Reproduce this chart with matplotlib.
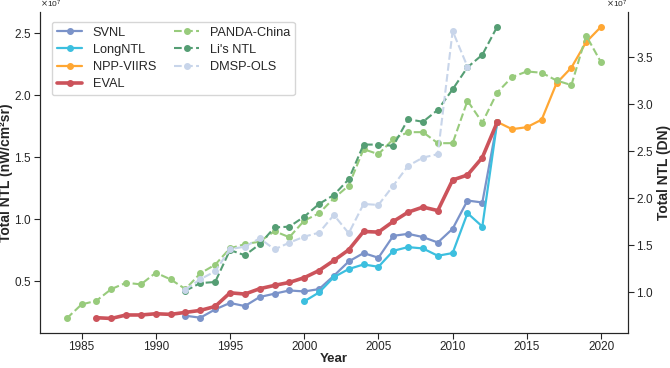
import numpy as np
import matplotlib
matplotlib.use("Agg")
import matplotlib.pyplot as plt
from matplotlib.ticker import ScalarFormatter
import seaborn as sns

sns.set_style("ticks")
plt.rcParams['font.family'] = ['Liberation Sans', 'DejaVu Sans']

# left axis (nW/cm2sr), units of 1e7
svnl_years = list(range(1992, 2014))
svnl = [0.220, 0.204, 0.271, 0.323, 0.298, 0.371, 0.398, 0.424, 0.416, 0.435, 0.543,
        0.658, 0.726, 0.688, 0.865, 0.881, 0.855, 0.811, 0.922, 1.150, 1.134, 1.782]
long_years = list(range(2000, 2014))
longntl = [0.336, 0.408, 0.532, 0.597, 0.634, 0.615, 0.744, 0.774, 0.763, 0.704, 0.726,
           1.048, 0.940, 1.782]
npp_years = list(range(2013, 2021))
npp = [1.785, 1.726, 1.742, 1.803, 2.097, 2.223, 2.430, 2.553]
eval_years = list(range(1986, 2014))
evalntl = [0.204, 0.198, 0.226, 0.226, 0.236, 0.231, 0.247, 0.263, 0.295, 0.405, 0.395,
           0.438, 0.465, 0.489, 0.527, 0.585, 0.666, 0.752, 0.900, 0.895, 0.981, 1.056,
           1.097, 1.069, 1.316, 1.356, 1.497, 1.782]

# right axis (DN), units of 1e7
panda_years = list(range(1984, 2021))
panda = [0.723, 0.872, 0.911, 1.035, 1.102, 1.085, 1.209, 1.138, 1.035, 1.202, 1.294,
         1.468, 1.512, 1.539, 1.650, 1.586, 1.762, 1.840, 2.000, 2.134, 2.521, 2.468,
         2.628, 2.702, 2.702, 2.585, 2.585, 3.036, 2.804, 3.123, 3.287, 3.347, 3.333,
         3.251, 3.202, 3.727, 3.443]
li_years = list(range(1992, 2014))
li = [1.017, 1.099, 1.110, 1.450, 1.394, 1.511, 1.690, 1.698, 1.804, 1.939, 2.035,
      2.202, 2.570, 2.570, 2.556, 2.840, 2.812, 2.939, 3.157, 3.391, 3.524, 3.822]
dmsp_years = list(range(1992, 2012))
dmsp = [1.030, 1.140, 1.223, 1.460, 1.485, 1.574, 1.457, 1.528, 1.592, 1.634, 1.822,
        1.628, 1.939, 1.929, 2.134, 2.344, 2.432, 2.468, 3.776, 3.397]

fig = plt.figure(figsize=(6.7, 3.68), dpi=100)
ax = fig.add_axes([0.0597, 0.095, 0.8773, 0.872])
ax2 = ax.twinx()

e7 = 1e7
ax.plot(svnl_years, np.array(svnl) * e7, '-o', color='#7b93c9', lw=1.6, ms=4, label='SVNL')
ax.plot(long_years, np.array(longntl) * e7, '-o', color='#3cbfdf', lw=1.6, ms=4, label='LongNTL')
ax.plot(npp_years, np.array(npp) * e7, '-o', color='#ffa733', lw=1.6, ms=4, label='NPP-VIIRS')
ax.plot(eval_years, np.array(evalntl) * e7, '-o', color='#cc535b', lw=2.6, ms=4, label='EVAL')

ax2.plot(panda_years, np.array(panda) * e7, '--o', color='#98cb7c', lw=1.5, ms=4, label='PANDA-China')
ax2.plot(li_years, np.array(li) * e7, '--o', color='#559e74', lw=1.5, ms=4, label="Li's NTL")
ax2.plot(dmsp_years, np.array(dmsp) * e7, '--o', color='#c8d5ea', lw=1.5, ms=4, label='DMSP-OLS')

ax.set_xticks([1985, 1990, 1995, 2000, 2005, 2010, 2015, 2020])
ax.set_yticks(np.array([0.5, 1.0, 1.5, 2.0, 2.5]) * e7)
ax2.set_yticks(np.array([1.0, 1.5, 2.0, 2.5, 3.0, 3.5]) * e7)
for a in (ax, ax2):
    fmt = ScalarFormatter(useMathText=True)
    fmt.set_powerlimits((0, 0))
    a.yaxis.set_major_formatter(fmt)
    a.tick_params(labelsize=8.5, length=4, pad=2)
    a.yaxis.get_offset_text().set_fontsize(6)
    a.spines['top'].set_visible(False)

ax.set_xlabel('Year', fontsize=9.5, fontweight='bold', labelpad=0)
ax.set_ylabel('Total NTL (nW/cm²sr)', fontsize=10, fontweight='bold')
ax2.set_ylabel('Total NTL (DN)', fontsize=10, fontweight='bold')
ax.yaxis.set_label_coords(-0.046, 0.5)
ax2.yaxis.set_label_coords(1.049, 0.5)

h1, l1 = ax.get_legend_handles_labels()
h2, l2 = ax2.get_legend_handles_labels()
leg = ax2.legend(h1 + h2, l1 + l2, ncol=2, loc='upper left', fontsize=9.2,
                 frameon=True, handlelength=2.0, columnspacing=1.4, labelspacing=0.4,
                 borderpad=0.4, bbox_to_anchor=(0.009, 0.99))
leg.get_frame().set_edgecolor('#cccccc')

fig.savefig('out.png', dpi=100)
